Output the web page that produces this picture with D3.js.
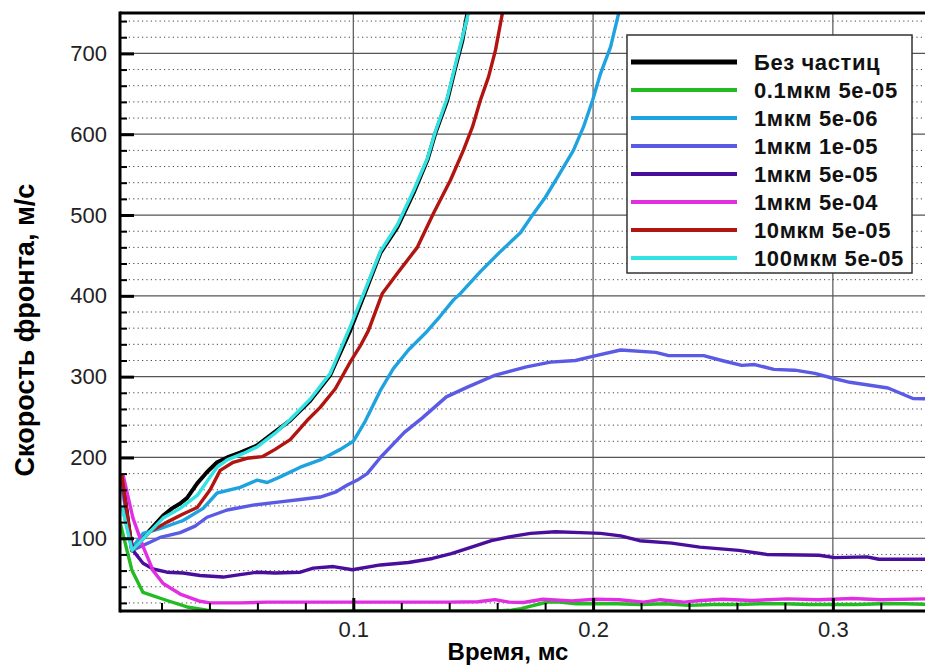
<!DOCTYPE html>
<html lang="ru">
<head>
<meta charset="UTF-8">
<script src="https://d3js.org/d3.v7.min.js"></script>
<style>
  body { margin: 0; background: #fff; font-family: "Liberation Sans", Arial, sans-serif; }
  svg { display: block; }
  .tick text { font-family: "Liberation Sans", Arial, sans-serif; }
</style>
</head>
<body>
<svg id="chart" width="925" height="667"></svg>
<script>
// --- data (time in ms, speed in m/s) ---
const seriesNames = ["Без частиц", "0.1мкм 5e-05", "1мкм 5e-06", "1мкм 1e-05",
                     "1мкм 5e-05", "1мкм 5e-04", "10мкм 5e-05", "100мкм 5e-05"];
const seriesColors = ["#000000", "#22bb22", "#1fa3e0", "#5a5ae4",
                      "#4a0e9c", "#e22ee2", "#b21410", "#33e3e3"];

const tBlack = [0.0035,0.0077,0.0152,0.0207,0.0244,0.0278,0.0307,0.0349,0.039,0.0432,0.0474,0.0528,0.0599,0.0666,0.0737,0.082,0.0904,0.0987,0.1058,0.1113,0.1184,0.1251,0.1309,0.1342,0.1392,0.1426,0.1455,0.1476];
const vBlack = [178,85,110,128,137,143,150,168,182,194,200,206,215,230,246,270,302,357,411,453,485,527,568,601,642,683,716,750];

const tGreen = [0.0027,0.0077,0.0123,0.0223,0.0307,0.039,0.0486,0.06,0.08,0.1,0.12,0.14,0.16,0.166,0.17,0.174,0.178,0.181,0.186,0.193,0.2,0.21,0.22,0.23,0.24,0.25,0.26,0.27,0.28,0.29,0.3,0.31,0.32,0.33,0.345];
const vGreen = [120,60,33,23,15,11,9,8,9,10,10,10,10,11,13,16,19,21,21,19,19,19,18,19,17,18,18,19,19,18,18,18,19,19,18];

const tBlue = [0.0035,0.0077,0.0123,0.0194,0.029,0.0374,0.0432,0.0528,0.0599,0.0641,0.0695,0.0779,0.0862,0.0946,0.1,0.105,0.1113,0.1167,0.123,0.1301,0.1363,0.1418,0.1447,0.153,0.1614,0.1697,0.1752,0.1801,0.1852,0.1918,0.196,0.1998,0.2031,0.2073,0.2107];
const vBlue = [140,88,106,112,122,137,156,163,172,169,176,188,197,210,220,245,283,310,333,354,375,395,403,430,455,478,502,522,547,580,609,642,675,708,750];

const tSlate = [0.0035,0.0077,0.0152,0.0194,0.0278,0.034,0.039,0.0474,0.0582,0.0695,0.0779,0.0862,0.0925,0.0975,0.1017,0.1058,0.1113,0.1213,0.1288,0.1388,0.1476,0.1593,0.1722,0.1822,0.1927,0.1998,0.2115,0.2261,0.2315,0.2461,0.2537,0.262,0.2674,0.2754,0.2841,0.2925,0.3,0.3071,0.323,0.3334,0.3451];
const vSlate = [165,85,95,101,107,115,126,135,141,145,148,151,157,166,172,180,200,231,249,275,287,302,312,318,320,325,333,330,326,326,320,314,315,309,308,304,298,293,286,273,272];

const tPurple = [0.0035,0.0061,0.0081,0.0123,0.0165,0.0223,0.029,0.0361,0.0457,0.0528,0.0599,0.0674,0.0779,0.0833,0.0917,0.0996,0.1113,0.123,0.133,0.1409,0.1493,0.1576,0.1656,0.1739,0.1843,0.1948,0.2031,0.2115,0.2194,0.2328,0.2445,0.2608,0.2724,0.2942,0.3008,0.3142,0.3192,0.3451];
const vPurple = [178,119,85,69,62,58,57,54,52,55,58,57,58,63,65,61,67,70,75,81,89,97,102,106,108,107,106,103,97,94,89,85,80,79,76,77,74,74];

const tMagenta = [0.004,0.0081,0.0123,0.0165,0.0207,0.0278,0.0361,0.0403,0.0528,0.0641,0.08,0.1,0.12,0.14,0.152,0.159,0.165,0.171,0.179,0.191,0.201,0.211,0.221,0.228,0.238,0.245,0.254,0.266,0.281,0.294,0.308,0.32,0.339,0.345];
const vMagenta = [178,125,90,60,44,31,22,20,20,21,21,21,21,21,21.5,24,21,20.5,24.5,22.5,24.5,24,21,24,21,23,24.5,23,25,24,25.5,24,25,25];

const tRed = [0.0035,0.0077,0.0152,0.0223,0.029,0.0349,0.0403,0.0445,0.0499,0.0557,0.062,0.0674,0.0737,0.0808,0.0862,0.0925,0.0987,0.1029,0.1063,0.1121,0.1184,0.1267,0.1334,0.1405,0.1459,0.1497,0.153,0.1564,0.1593,0.1622];
const vRed = [178,85,108,120,130,138,160,184,194,199,201,210,222,246,262,285,318,338,357,403,428,460,502,543,580,609,642,671,704,750];

const tCyan = [0.0035,0.0077,0.0152,0.0207,0.0278,0.0349,0.0403,0.0432,0.0474,0.0541,0.0599,0.0674,0.0737,0.082,0.0904,0.0987,0.1058,0.1113,0.1184,0.1251,0.1309,0.1342,0.1392,0.1426,0.1455,0.148];
const vCyan = [140,85,108,125,137,153,176,188,197,205,213,230,247,272,304,362,414,455,488,530,570,603,645,686,720,750];

const xMajorTicks = [0.1, 0.2, 0.3];
const xMinorTicks = [0.02,0.04,0.06,0.08,0.12,0.14,0.16,0.18,0.22,0.24,0.26,0.28,0.32,0.34];
const yMajorTicks = [100, 200, 300, 400, 500, 600, 700];
const yMinorTicks = d3.range(20, 750, 20).filter(v => v % 100 !== 0);

const allT = [tBlack, tGreen, tBlue, tSlate, tPurple, tMagenta, tRed, tCyan];
const allV = [vBlack, vGreen, vBlue, vSlate, vPurple, vMagenta, vRed, vCyan];

// --- layout ---
const m = { left: 120, top: 13, right: 941, bottom: 611 };

const x = d3.scaleLinear().domain([0.0027, 0.3451]).range([m.left, m.right]);
const y = d3.scaleLinear().domain([10, 750]).range([m.bottom, m.top]);

const svg = d3.select("#chart");

svg.append("defs").append("clipPath").attr("id", "plotclip")
  .append("rect").attr("x", m.left).attr("y", m.top)
  .attr("width", m.right - m.left).attr("height", m.bottom - m.top);

// dotted minor grid
svg.append("g").selectAll("line").data(yMinorTicks).join("line")
  .attr("x1", m.left).attr("x2", m.right)
  .attr("y1", d => y(d)).attr("y2", d => y(d))
  .attr("stroke", "#444").attr("stroke-width", 1).attr("stroke-dasharray", "1.2,3.2");

// solid major grid
svg.append("g").selectAll("line").data(yMajorTicks).join("line")
  .attr("x1", m.left).attr("x2", m.right)
  .attr("y1", d => y(d)).attr("y2", d => y(d))
  .attr("stroke", "#555").attr("stroke-width", 1.2);
svg.append("g").selectAll("line").data(xMajorTicks).join("line")
  .attr("x1", d => x(d)).attr("x2", d => x(d))
  .attr("y1", m.top).attr("y2", m.bottom)
  .attr("stroke", "#555").attr("stroke-width", 1.2);

// curves
const line = d3.line().x(d => x(d[0])).y(d => y(d[1]));
const plot = svg.append("g").attr("clip-path", "url(#plotclip)");
seriesNames.forEach((name, i) => {
  const pts = allT[i].map((t, j) => [t, allV[i][j]]);
  plot.append("path")
    .datum(pts)
    .attr("fill", "none")
    .attr("stroke", seriesColors[i])
    .attr("stroke-width", i === 0 ? 4 : 3.4)
    .attr("stroke-linejoin", "round")
    .attr("d", line);
});

// axes
const yAxis = svg.append("g").attr("transform", `translate(${m.left},0)`)
  .call(d3.axisLeft(y).tickValues(yMajorTicks).tickSize(-14).tickPadding(13));
const yMinor = svg.append("g").attr("transform", `translate(${m.left},0)`)
  .call(d3.axisLeft(y).tickValues(yMinorTicks).tickSize(-7).tickFormat(""));
const xAxis = svg.append("g").attr("transform", `translate(0,${m.bottom})`)
  .call(d3.axisBottom(x).tickValues(xMajorTicks).tickSize(-13).tickPadding(10).tickFormat(d3.format(".1f")));
const xMinor = svg.append("g").attr("transform", `translate(0,${m.bottom})`)
  .call(d3.axisBottom(x).tickValues(xMinorTicks).tickSize(-8).tickFormat(""));

[yAxis, xAxis].forEach(g => {
  g.select(".domain").remove();
  g.selectAll(".tick line").attr("stroke", "#000").attr("stroke-width", 3);
  g.selectAll(".tick text").attr("font-size", 22).attr("fill", "#222");
});
[yMinor, xMinor].forEach(g => {
  g.select(".domain").remove();
  g.selectAll(".tick line").attr("stroke", "#000").attr("stroke-width", 2);
});

// frame
svg.append("line").attr("x1", m.left).attr("x2", m.left).attr("y1", m.top - 1.5).attr("y2", m.bottom + 1.5)
  .attr("stroke", "#000").attr("stroke-width", 3);
svg.append("line").attr("x1", m.left).attr("x2", m.right).attr("y1", m.top).attr("y2", m.top)
  .attr("stroke", "#000").attr("stroke-width", 3);
svg.append("line").attr("x1", m.left).attr("x2", m.right).attr("y1", m.bottom).attr("y2", m.bottom)
  .attr("stroke", "#000").attr("stroke-width", 3);

// axis titles
svg.append("text")
  .attr("transform", "translate(34,330) rotate(-90)")
  .attr("text-anchor", "middle")
  .attr("font-size", 27).attr("font-weight", "bold")
  .text("Скорость фронта, м/с");
svg.append("text")
  .attr("x", 508).attr("y", 660)
  .attr("text-anchor", "middle")
  .attr("font-size", 24).attr("font-weight", "bold")
  .text("Время, мс");

// legend
const legend = svg.append("g");
legend.append("rect")
  .attr("x", 627).attr("y", 35).attr("width", 285).attr("height", 238)
  .attr("fill", "#fff").attr("stroke", "#333").attr("stroke-width", 1.5);
const rowY = d3.scalePoint().domain(seriesNames).range([62, 258]);
seriesNames.forEach((name, i) => {
  legend.append("line")
    .attr("x1", 631).attr("x2", 737)
    .attr("y1", rowY(name)).attr("y2", rowY(name))
    .attr("stroke", seriesColors[i]).attr("stroke-width", i === 0 ? 5 : 4);
  legend.append("text")
    .attr("x", 754).attr("y", rowY(name) + 8)
    .attr("font-size", 22).attr("font-weight", "bold").attr("fill", "#111")
    .attr("letter-spacing", 0.6)
    .text(name);
});
</script>
</body>
</html>
